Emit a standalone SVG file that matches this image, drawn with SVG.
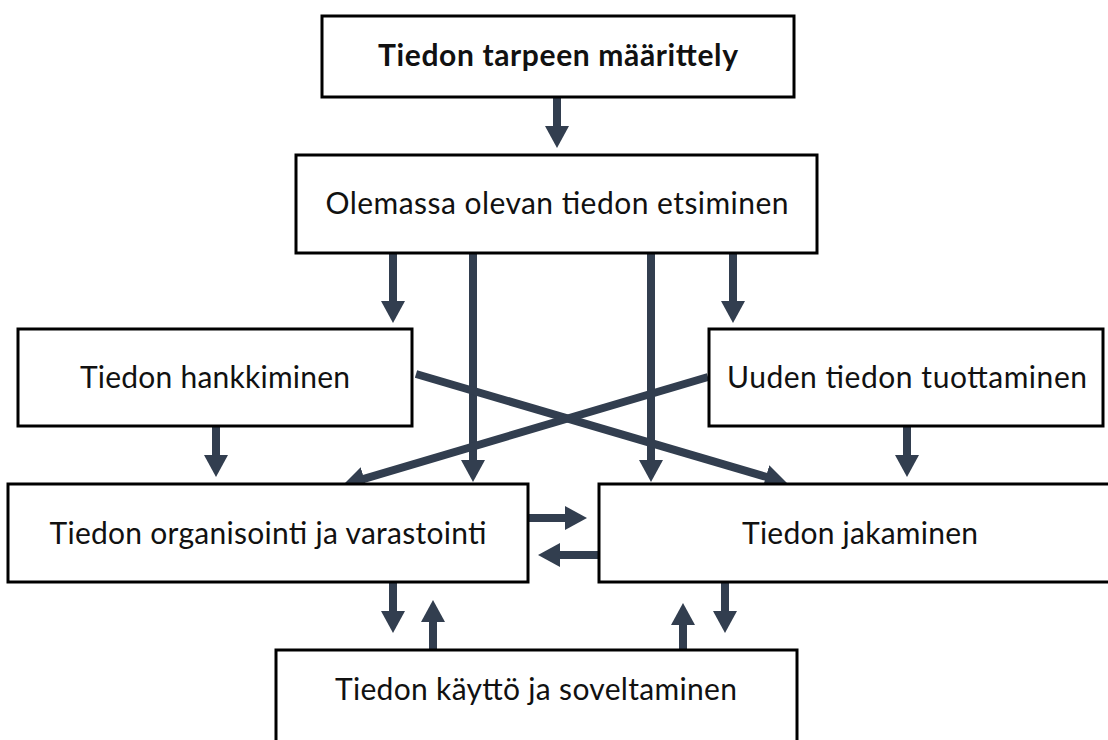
<svg xmlns="http://www.w3.org/2000/svg" width="1108" height="740" viewBox="0 0 1108 740">
  <style>
    .box { fill: #ffffff; stroke: #000000; stroke-width: 3; }
    .lbl { font-family: Lato, "Liberation Sans", sans-serif; font-size: 30px; fill: #111111; text-anchor: middle; }
    .bold { font-weight: bold; }
    .conn { stroke: #323e4f; stroke-width: 8; fill: none; marker-end: url(#head); }
  </style>
  <defs>
    <marker id="head" viewBox="0 -12 22 24" markerUnits="userSpaceOnUse" markerWidth="22" markerHeight="24" refX="2" refY="0" orient="auto">
      <path d="M0,-12 L22,0 L0,12 z" fill="#323e4f"/>
    </marker>
  </defs>
  <rect width="1108" height="740" fill="#ffffff"/>

  <g id="connectors">
    <line class="conn" x1="557" y1="97" x2="557" y2="128"/>
    <line class="conn" x1="393" y1="253" x2="393" y2="303"/>
    <line class="conn" x1="473" y1="253" x2="473" y2="462"/>
    <line class="conn" x1="651" y1="253" x2="651" y2="462"/>
    <line class="conn" x1="733" y1="253" x2="733" y2="303"/>
    <line class="conn" x1="216" y1="426" x2="216" y2="457"/>
    <line class="conn" x1="907" y1="426" x2="907" y2="457"/>
    <line class="conn" x1="416" y1="374" x2="767.8" y2="477.4"/>
    <line class="conn" x1="708" y1="377" x2="362.2" y2="479.3"/>
    <line class="conn" x1="528" y1="518" x2="567" y2="518"/>
    <line class="conn" x1="599" y1="555" x2="558" y2="555"/>
    <line class="conn" x1="393" y1="582" x2="393" y2="613"/>
    <line class="conn" x1="433" y1="650" x2="433" y2="620"/>
    <line class="conn" x1="683" y1="652" x2="683" y2="623"/>
    <line class="conn" x1="725" y1="582" x2="725" y2="613"/>
  </g>

  <g id="node-maarittely">
    <rect class="box" x="322" y="16" width="472" height="81"/>
    <text class="lbl bold" x="558" y="66" textLength="360">Tiedon tarpeen määrittely</text>
  </g>
  <g id="node-etsiminen">
    <rect class="box" x="296" y="155" width="521" height="98"/>
    <text class="lbl" x="557" y="214" textLength="463">Olemassa olevan tiedon etsiminen</text>
  </g>
  <g id="node-hankkiminen">
    <rect class="box" x="18" y="329" width="394" height="97"/>
    <text class="lbl" x="215" y="388" textLength="270">Tiedon hankkiminen</text>
  </g>
  <g id="node-tuottaminen">
    <rect class="box" x="709" y="329" width="394" height="97"/>
    <text class="lbl" x="907" y="388" textLength="360">Uuden tiedon tuottaminen</text>
  </g>
  <g id="node-organisointi">
    <rect class="box" x="8" y="484" width="520" height="98"/>
    <text class="lbl" x="268" y="544" textLength="437">Tiedon organisointi ja varastointi</text>
  </g>
  <g id="node-jakaminen">
    <rect class="box" x="599" y="484" width="522" height="98"/>
    <text class="lbl" x="860" y="544" textLength="236">Tiedon jakaminen</text>
  </g>
  <g id="node-kaytto">
    <rect class="box" x="276" y="650" width="521" height="100"/>
    <text class="lbl" x="536" y="700" textLength="402">Tiedon käyttö ja soveltaminen</text>
  </g>
</svg>
